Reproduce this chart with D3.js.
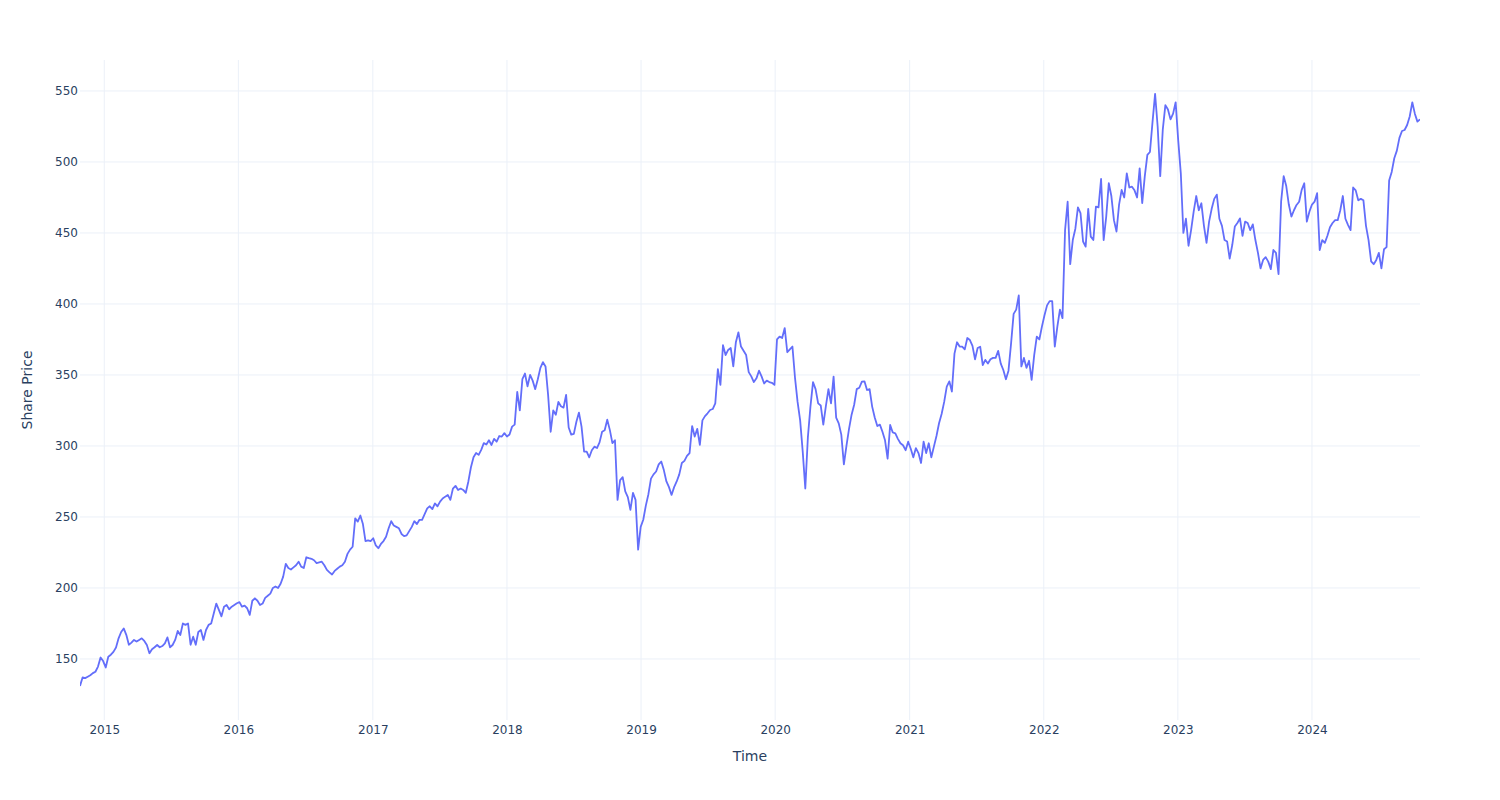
<!DOCTYPE html>
<html>
<head>
<meta charset="utf-8">
<script src="https://cdn.jsdelivr.net/npm/d3@7"></script>
<style>
  html, body { margin: 0; padding: 0; background: #fff; }
  svg { display: block; font-family: "DejaVu Sans", "Open Sans", sans-serif; }
</style>
</head>
<body>
<svg id="chart" width="1500" height="800"></svg>
<script>
// Weekly closing share price, first week starting 2014-10-27
const firstWeek = "2014-10-27";
const price2014 = [131, 137, 136.5, 137.5, 138.5, 140, 141, 144.6, 151, 148.5];
const price2015 = [144, 151.6, 153, 155, 158, 164.5, 169, 171.5, 167, 160, 161.5, 163.4, 162.2, 163.4, 164.5, 162.7, 159.8, 154, 156.8, 158.2, 159.8, 158.2, 159.1, 161, 165.2, 158.2, 159.8, 163.4, 169.7, 166.9, 175, 174, 175, 160, 165.7, 160, 169, 170.4, 163.4, 170.4, 174, 175, 182, 189, 184.5, 180, 186.8, 188, 185, 186.8, 188, 189.2];
const price2016 = [190, 186.8, 187.5, 185.7, 181, 191, 192.7, 191, 188, 189, 193, 194.5, 196, 200, 201, 200, 203, 208, 217, 214, 213, 214.5, 216, 218.5, 215, 214, 221.6, 221, 220.5, 219.5, 217.5, 218, 218.5, 216, 212.7, 211, 209.5, 212, 213.5, 215, 216, 218.5, 224, 227, 229, 249, 246.7, 251, 245, 233, 233.5, 233];
const price2017 = [235, 230, 228, 231, 233, 236, 242, 247, 244, 243, 242, 238, 236.5, 237, 240, 243, 247, 245, 248, 248, 252, 256, 257.5, 255.5, 259.5, 257.5, 260.8, 263, 264.3, 265.5, 262, 270, 271.9, 269, 270, 269, 267, 275, 285, 292, 295, 293.7, 297.2, 302, 301, 304, 300.7, 305, 303, 307, 306.6, 309];
const price2018 = [306.6, 308, 313.6, 315, 338, 325, 347, 351, 342, 350, 346, 340, 347, 355, 359, 356, 336, 310, 325, 322, 331, 328, 327, 336, 313, 308, 308.5, 317, 323.5, 313.6, 296, 296, 292, 297, 299.5, 298.5, 302.5, 310, 311, 318.5, 311.3, 302, 304, 262, 276, 278, 268, 264, 255, 267, 262, 227];
const price2019 = [243, 248, 258, 266, 277, 280, 282, 287, 289, 283, 275, 271, 265.5, 271, 275, 280, 288, 289.5, 293, 295, 314, 306.6, 312, 300.7, 318, 321, 323, 325.3, 326, 330, 354, 343, 371, 364, 367.6, 369, 356, 373, 380, 370, 367, 364, 352, 349, 345, 347.6, 353, 349, 344, 346, 345, 344.5];
const price2020 = [343, 375, 377, 376, 383, 366, 368, 370, 348, 331, 318, 296, 270, 306, 327.7, 345, 340, 330, 328.5, 315, 328, 340, 330, 348.8, 320, 315.9, 308, 287, 300, 312, 322, 329, 340, 341, 345.3, 345.5, 339.4, 340, 327.7, 320, 314, 315, 310, 304, 291, 314.8, 309.5, 308.9, 305, 301.9, 300.5, 297];
const price2021 = [303, 298, 292, 298.5, 295, 288, 303, 295, 301.9, 292, 299.5, 307, 316, 322.5, 331, 341.8, 345.5, 338.3, 365, 373, 370, 370, 368, 376, 374.6, 370.5, 361, 369, 369.9, 357, 360.6, 358, 361, 362, 362, 367, 358, 353.5, 347, 353, 372, 393, 396, 406, 356, 362, 355, 360, 346.5, 364, 377, 375, 384];
const price2022 = [392, 399, 402, 402, 370, 384, 396, 390, 452, 472, 428, 445, 453, 468, 464, 444, 440.4, 467, 447.4, 445, 468.5, 468, 488, 445, 461.5, 485, 476, 459, 451, 470, 480.3, 475, 492, 482, 482.6, 480, 475, 495.5, 471, 490, 505, 507, 528, 548, 525, 490, 523, 540, 537, 530, 534, 542];
const price2023 = [515, 492, 450, 460, 441, 452, 465, 476, 466, 470.9, 455, 443, 458, 467, 474, 477, 460, 455, 445, 444, 432, 441.5, 454.5, 457, 460.3, 448, 458, 457, 452, 456, 445, 436, 425, 431, 433, 429.8, 424.5, 438, 436, 421, 472, 490, 483, 470, 461.5, 466, 469.7, 472, 480.3, 485, 458, 465];
const price2024 = [470, 472, 478, 438, 445, 443, 448, 454, 457, 459, 459, 466, 476, 460, 455.7, 452, 482, 480, 473, 474, 473, 455, 445, 430, 428, 431, 436, 425, 438.5, 440, 487, 493, 502.6, 508, 517, 521.8, 522.5, 526, 532, 542, 534, 528.4, 530];

const yTicks = [150, 200, 250, 300, 350, 400, 450, 500, 550];
const xTickYears = ["2015", "2016", "2017", "2018", "2019", "2020", "2021", "2022", "2023", "2024"];
const yRange = [107, 571.8];
const xTitle = "Time";
const yTitle = "Share Price";

(function () {
  const prices = [].concat(price2014, price2015, price2016, price2017, price2018, price2019,
                           price2020, price2021, price2022, price2023, price2024);
  const parse = d3.timeParse("%Y-%m-%d");
  const start = parse(firstWeek);
  const data = prices.map((v, i) => ({ date: d3.timeDay.offset(start, 7 * i), value: v }));

  const svg = d3.select("#chart");
  const pLeft = 80, pRight = 1420, pTop = 60, pBottom = 720;

  const x = d3.scaleTime().domain(d3.extent(data, d => d.date)).range([pLeft, pRight]);
  const y = d3.scaleLinear().domain(yRange).range([pBottom, pTop]);

  const textColor = "#2a3f5f";
  const gridColor = "#ebf0f8";

  // Grid lines
  const xTickDates = xTickYears.map(s => parse(s + "-01-01"));
  svg.append("g").selectAll("line").data(xTickDates).join("line")
    .attr("x1", d => x(d)).attr("x2", d => x(d))
    .attr("y1", pTop).attr("y2", pBottom)
    .attr("stroke", gridColor).attr("stroke-width", 1);
  svg.append("g").selectAll("line").data(yTicks).join("line")
    .attr("x1", pLeft).attr("x2", pRight)
    .attr("y1", d => y(d)).attr("y2", d => y(d))
    .attr("stroke", gridColor).attr("stroke-width", 1);

  // Axes (labels only, Plotly-style)
  const xAxis = d3.axisBottom(x).tickValues(xTickDates).tickFormat(d3.timeFormat("%Y")).tickSize(0).tickPadding(5);
  const gx = svg.append("g").attr("transform", `translate(0,${pBottom})`).call(xAxis);
  gx.select(".domain").remove();
  gx.selectAll("text").attr("fill", textColor).style("font-size", "12px").style("font-family", "DejaVu Sans, sans-serif");

  const yAxis = d3.axisLeft(y).tickValues(yTicks).tickSize(0).tickPadding(2);
  const gy = svg.append("g").attr("transform", `translate(${pLeft},0)`).call(yAxis);
  gy.select(".domain").remove();
  gy.selectAll("text").attr("fill", textColor).style("font-size", "12px").style("font-family", "DejaVu Sans, sans-serif");

  // Line
  svg.append("clipPath").attr("id", "plotclip").append("rect")
    .attr("x", pLeft).attr("y", pTop).attr("width", pRight - pLeft).attr("height", pBottom - pTop);
  const line = d3.line().x(d => x(d.date)).y(d => y(d.value));
  svg.append("path").datum(data)
    .attr("clip-path", "url(#plotclip)")
    .attr("fill", "none").attr("stroke", "#636efa").attr("stroke-width", 1.8)
    .attr("stroke-linejoin", "round")
    .attr("d", line);

  // Axis titles
  svg.append("text").attr("x", (pLeft + pRight) / 2).attr("y", 761)
    .attr("text-anchor", "middle").attr("fill", textColor)
    .style("font-size", "14px").text(xTitle);
  svg.append("text").attr("transform", `translate(32,${(pTop + pBottom) / 2}) rotate(-90)`)
    .attr("text-anchor", "middle").attr("fill", textColor)
    .style("font-size", "14px").text(yTitle);
})();
</script>
</body>
</html>
